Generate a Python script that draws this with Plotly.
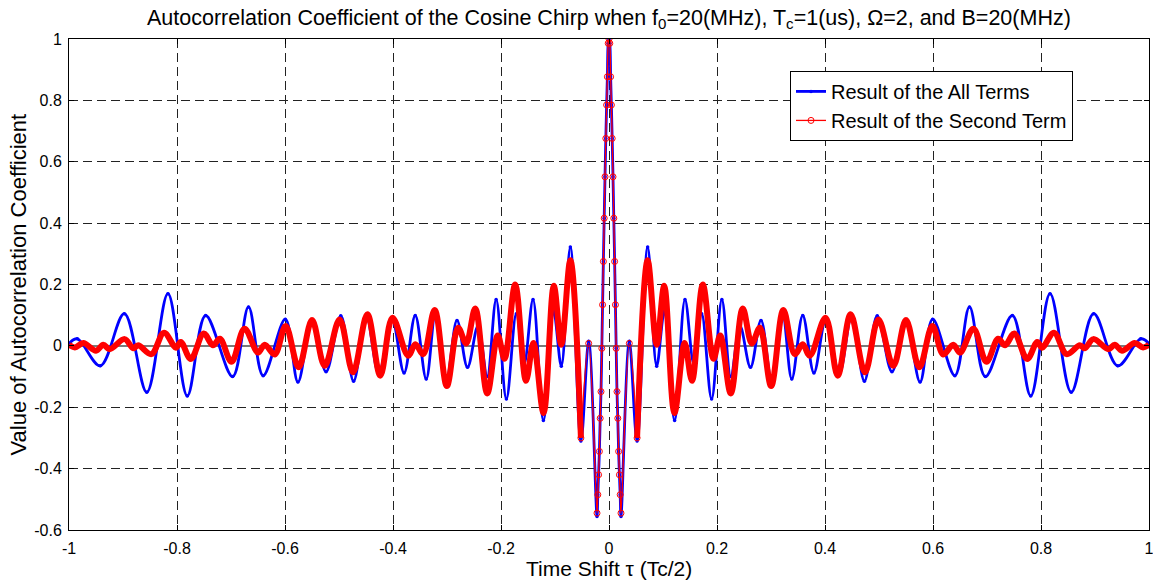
import plotly.graph_objects as go

# ---------------- data ----------------
BLUE_TAU = [
    -1.0, -0.9845, -0.942, -0.8975, -0.856, -0.8168, -0.781, -0.747, -0.697, -0.6676,
    -0.6405, -0.5994, -0.576, -0.55, -0.524, -0.4967, -0.473, -0.4495, -0.4265, -0.4015,
    -0.3795, -0.3588, -0.3385, -0.321, -0.301, -0.2815, -0.262, -0.2426, -0.2255, -0.209,
    -0.190, -0.1716, -0.157, -0.1407, -0.1215, -0.1025, -0.0883, -0.0716, -0.052, -0.0376,
    -0.0222, -0.0207, -0.0193, -0.0178, -0.0163, -0.0148, -0.0133, -0.0119, -0.0104, -0.0089,
    -0.0074, -0.0059, -0.0044, -0.003, -0.0015, 0.0,
    0.0015, 0.003, 0.0044, 0.0059, 0.0074, 0.0089, 0.0104, 0.0119, 0.0133, 0.0148,
    0.0163, 0.0178, 0.0193, 0.0207, 0.0222, 0.0376, 0.052, 0.0716, 0.0883, 0.1025,
    0.1215, 0.1407, 0.157, 0.1716, 0.190, 0.209, 0.2255, 0.2426, 0.262, 0.2815,
    0.301, 0.321, 0.3385, 0.3588, 0.3795, 0.4015, 0.4265, 0.4495, 0.473, 0.4967,
    0.524, 0.55, 0.576, 0.5994, 0.6405, 0.6676, 0.697, 0.747, 0.781, 0.8168,
    0.856, 0.8975, 0.942, 0.9845, 1.0,
]
BLUE_VAL = [
    0.008, 0.023, -0.065, 0.105, -0.151, 0.17, -0.163, 0.099, -0.10, 0.127,
    -0.097, 0.087, -0.118, 0.084, -0.084, 0.098, -0.115, 0.099, -0.09, 0.084,
    -0.088, 0.099, -0.108, 0.112, -0.11, 0.083, -0.07, 0.065, -0.10, 0.151,
    -0.173, 0.105, -0.058, 0.151, -0.243, 0.112, -0.066, 0.322, -0.31, 0.015,
    -0.556, -0.485, -0.42, -0.344, -0.236, -0.149, -0.008, 0.134, 0.275, 0.416,
    0.551, 0.676, 0.785, 0.877, 0.986, 1.0,
    0.986, 0.877, 0.785, 0.676, 0.551, 0.416, 0.275, 0.134, -0.008, -0.149,
    -0.236, -0.344, -0.42, -0.485, -0.556, 0.015, -0.31, 0.322, -0.066, 0.112,
    -0.243, 0.151, -0.058, 0.105, -0.173, 0.151, -0.10, 0.065, -0.07, 0.083,
    -0.11, 0.112, -0.108, 0.099, -0.088, 0.084, -0.09, 0.099, -0.115, 0.098,
    -0.084, 0.084, -0.118, 0.087, -0.097, 0.127, -0.10, 0.099, -0.163, 0.17,
    -0.151, 0.105, -0.065, 0.023, 0.008,
]

RED_TAU = [
    -1.0, -0.989, -0.9735, -0.95, -0.9365, -0.925, -0.897, -0.881, -0.872, -0.8475,
    -0.824, -0.802, -0.793, -0.7745, -0.7505, -0.7335, -0.7205, -0.699, -0.675, -0.65,
    -0.6375, -0.619, -0.5988, -0.5747, -0.55, -0.5265, -0.4988, -0.474, -0.4475, -0.4235,
    -0.401, -0.372, -0.3586, -0.344, -0.3228, -0.3003, -0.2795, -0.2645, -0.2477, -0.2255,
    -0.206, -0.1935, -0.1737, -0.1537, -0.140, -0.1212, -0.1022, -0.0883, -0.0716, -0.052,
    -0.0376, -0.0222, -0.0207, -0.0193, -0.0178, -0.0163, -0.0148, -0.0133, -0.0119, -0.0104,
    -0.0089, -0.0074, -0.0059, -0.0044, -0.003, -0.0015, 0.0,
    0.0015, 0.003, 0.0044, 0.0059, 0.0074, 0.0089, 0.0104, 0.0119, 0.0133, 0.0148,
    0.0163, 0.0178, 0.0193, 0.0207, 0.0222, 0.0376, 0.052, 0.0716, 0.0883, 0.1022,
    0.1212, 0.140, 0.1537, 0.1737, 0.1935, 0.206, 0.2255, 0.2477, 0.2645, 0.2795,
    0.3003, 0.3228, 0.344, 0.3586, 0.372, 0.401, 0.4235, 0.4475, 0.474, 0.4988,
    0.5265, 0.55, 0.5747, 0.5988, 0.619, 0.6375, 0.65, 0.675, 0.699, 0.7205,
    0.7335, 0.7505, 0.7745, 0.793, 0.802, 0.824, 0.8475, 0.872, 0.881, 0.897,
    0.925, 0.9365, 0.95, 0.9735, 0.989, 1.0,
]
RED_VAL = [
    0.004, -0.005, 0.009, -0.016, 0.004, -0.011, 0.022, -0.008, 0.002, -0.027,
    0.043, -0.006, 0.013, -0.043, 0.040, 0.002, 0.023, -0.052, 0.056, -0.022,
    0.004, -0.028, 0.065, -0.070, 0.084, -0.065, 0.086, -0.086, 0.103, -0.097,
    0.092, -0.032, 0.005, -0.027, 0.117, -0.131, 0.059, 0.008, 0.122, -0.155,
    0.034, -0.042, 0.200, -0.114, 0.009, -0.219, 0.196, 0.004, 0.279, -0.30,
    0.008, -0.545, -0.485, -0.42, -0.344, -0.236, -0.149, -0.008, 0.134, 0.275,
    0.416, 0.551, 0.676, 0.785, 0.877, 0.986, 1.0,
    0.986, 0.877, 0.785, 0.676, 0.551, 0.416, 0.275, 0.134, -0.008, -0.149,
    -0.236, -0.344, -0.42, -0.485, -0.545, 0.008, -0.30, 0.279, 0.004, 0.196,
    -0.219, 0.009, -0.114, 0.200, -0.042, 0.034, -0.155, 0.122, 0.008, 0.059,
    -0.131, 0.117, -0.027, 0.005, -0.032, 0.092, -0.097, 0.103, -0.086, 0.086,
    -0.065, 0.084, -0.070, 0.065, -0.028, 0.004, -0.022, 0.056, -0.052, 0.023,
    0.002, 0.040, -0.043, 0.013, -0.006, 0.043, -0.027, 0.002, -0.008, 0.022,
    -0.011, 0.004, -0.016, 0.009, -0.005, 0.004,
]

X_TICKS = [-1, -0.8, -0.6, -0.4, -0.2, 0, 0.2, 0.4, 0.6, 0.8, 1]
X_TICK_LABELS = ["-1", "-0.8", "-0.6", "-0.4", "-0.2", "0", "0.2", "0.4", "0.6", "0.8", "1"]
Y_TICKS = [-0.6, -0.4, -0.2, 0, 0.2, 0.4, 0.6, 0.8, 1]
Y_TICK_LABELS = ["-0.6", "-0.4", "-0.2", "0", "0.2", "0.4", "0.6", "0.8", "1"]

NAME_ALL = "Result of the All Terms"
NAME_SECOND = "Result of the Second Term"
TITLE = ("Autocorrelation Coefficient of the Cosine Chirp when f<sub>0</sub>=20(MHz), "
         "T<sub>c</sub>=1(us), \u03a9=2, and B=20(MHz)")
X_LABEL = "Time Shift \u03c4 (Tc/2)"
Y_LABEL = "Value of Autocorrelation Coefficient"

# ---------------- figure ----------------
FONT = "Liberation Sans, Arial, Helvetica, sans-serif"
BLUE = "#0000ff"
RED = "#ff0000"
CORE = 0.0525  # red drawn as a thin line with rings inside this |tau|

core = [i for i, t in enumerate(RED_TAU) if abs(t) <= CORE]
left = [i for i, t in enumerate(RED_TAU) if t <= -0.0515]
right = [i for i, t in enumerate(RED_TAU) if t >= 0.0515]

fig = go.Figure()
fig.add_trace(go.Scatter(
    x=BLUE_TAU, y=BLUE_VAL, mode="lines+markers", name=NAME_ALL,
    line=dict(color=BLUE, width=2.8, shape="spline"),
    marker=dict(color=BLUE, size=3.5),
))
for idx in (left, right):
    fig.add_trace(go.Scatter(
        x=[RED_TAU[i] for i in idx], y=[RED_VAL[i] for i in idx],
        mode="lines", showlegend=False, legendgroup="second", hoverinfo="skip",
        line=dict(color=RED, width=6, shape="spline"),
    ))
fig.add_trace(go.Scatter(
    x=[RED_TAU[i] for i in core], y=[RED_VAL[i] for i in core],
    mode="lines+markers", name=NAME_SECOND, legendgroup="second",
    line=dict(color=RED, width=1.3, shape="spline"),
    marker=dict(symbol="circle-open", size=6, color=RED, line=dict(width=1)),
))

axis_common = dict(
    showline=True, linecolor="black", linewidth=1, mirror="ticks",
    ticks="inside", ticklen=5, tickcolor="black",
    showgrid=True, gridcolor="#222222", gridwidth=1, griddash="9px,5px",
    tickfont=dict(family=FONT, size=16, color="black"),
    ticklabeloverflow="allow", automargin=False,
)
fig.update_xaxes(range=[-1, 1], tickvals=X_TICKS, ticktext=X_TICK_LABELS,
                 zeroline=False, ticklabelstandoff=4, **axis_common)
fig.update_yaxes(range=[-0.6, 1], tickvals=Y_TICKS, ticktext=Y_TICK_LABELS,
                 zeroline=True, zerolinecolor="#7a7a7a", zerolinewidth=1.6,
                 ticklabelstandoff=3, **axis_common)

fig.update_layout(
    width=1153, height=580,
    margin=dict(l=69, r=4, t=39, b=50),
    paper_bgcolor="white", plot_bgcolor="white",
    font=dict(family=FONT, color="black"),
    title=dict(text=TITLE, x=0.5281, xanchor="center", y=0.97, yref="container",
               yanchor="middle", font=dict(family=FONT, size=21.5, color="black")),
    legend=dict(x=0.6676, y=0.935, xanchor="left", yanchor="top",
                bgcolor="white", bordercolor="black", borderwidth=1,
                font=dict(family=FONT, size=20, color="black"),
                tracegroupgap=0, itemwidth=30),
    annotations=[
        dict(text=X_LABEL, xref="paper", yref="paper", x=0.5, y=-0.0794,
             xanchor="center", yanchor="middle", showarrow=False,
             font=dict(family=FONT, size=21, color="black")),
        dict(text=Y_LABEL, xref="paper", yref="paper", x=-0.0472, y=0.5,
             xanchor="center", yanchor="middle", showarrow=False, textangle=-90,
             font=dict(family=FONT, size=22, color="black")),
    ],
    showlegend=True,
)

fig.write_html("out.html")
